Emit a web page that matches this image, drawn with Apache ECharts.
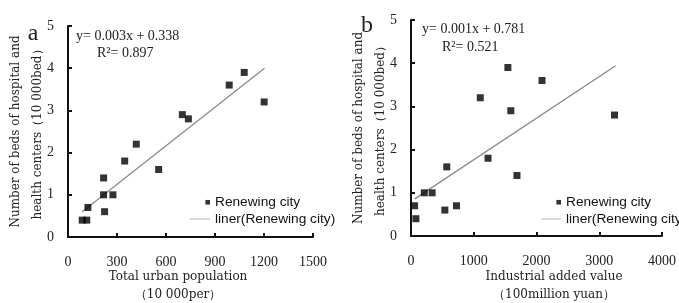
<!DOCTYPE html>
<html><head><meta charset="utf-8">
<script src="https://cdn.jsdelivr.net/npm/echarts@6/dist/echarts.min.js"></script>
<style>html,body{margin:0;padding:0;background:#fff}#c{width:679px;height:303px}</style>
</head><body><div id="c"></div>
<script>
// Panel a: Total urban population (10 000 per) vs beds (10 000 bed)
const popX = [87, 115, 122, 218, 218, 224, 275, 347, 418, 555, 700, 737, 987, 1079, 1201];
const popY = [0.4, 0.4, 0.7, 1.4, 1.0, 0.6, 1.0, 1.8, 2.2, 1.6, 2.9, 2.8, 3.6, 3.9, 3.2];
const popFitX = [87, 1203];
const popFitY = [0.6, 4.0];
// Panel b: Industrial added value (100 million yuan) vs beds
const indX = [57, 78, 212, 337, 539, 570, 725, 1104, 1228, 1544, 1591, 1689, 2088, 3243];
const indY = [0.7, 0.4, 1.0, 1.0, 0.6, 1.6, 0.7, 3.2, 1.8, 3.9, 2.9, 1.4, 3.6, 2.8];
const indFitX = [60, 3260];
const indFitY = [0.86, 3.94];
const yTicks = [0, 1, 2, 3, 4, 5];
const popTicks = [0, 300, 600, 900, 1200, 1500];
const indTicks = [0, 1000, 2000, 3000, 4000];

const serif = 'Liberation Serif';
const wideSerif = 'DejaVu Serif';
const sans = 'Liberation Sans';
const zip = (a, b) => a.map((v, i) => [v, b[i]]);

function xAxis(idx, ticks) {
  return {
    type: 'value', gridIndex: idx, min: ticks[0], max: ticks[ticks.length - 1],
    interval: ticks[1] - ticks[0], splitLine: { show: false },
    axisLine: { lineStyle: { color: '#111', width: 2 } },
    axisTick: { inside: true, length: 4, lineStyle: { color: '#111', width: 2 } },
    axisLabel: { margin: 18, color: '#222', fontFamily: serif, fontSize: 14, formatter: v => String(v) }
  };
}
function yAxis(idx) {
  return {
    type: 'value', gridIndex: idx, min: yTicks[0], max: yTicks[yTicks.length - 1], interval: 1,
    splitLine: { show: false },
    axisLine: { show: true, lineStyle: { color: '#111', width: 2 } },
    axisTick: { show: true, inside: true, length: 4, lineStyle: { color: '#111', width: 2 } },
    axisLabel: { margin: 14, color: '#222', fontFamily: serif, fontSize: 14, formatter: v => String(v) },
    name: 'Number of beds of hospital and\nhealth centers\uFF0810 000bed\uFF09',
    nameLocation: 'middle', nameRotate: 90, nameGap: 19, nameMoveOverlap: false,
    nameTextStyle: { color: '#222', fontFamily: wideSerif, fontSize: 12, lineHeight: 22 }
  };
}
const sq = 'path://M0,0M15,0.5H19.5V5H15Z';
const ln = 'path://M0,0H40V1.6H0Z';
function legend(left, top) {
  return {
    orient: 'vertical', left: left, top: top, itemWidth: 20, itemHeight: 6, itemGap: 3,
    padding: 0, selectedMode: false,
    textStyle: { color: '#111', fontFamily: sans, fontSize: 13.7 },
    data: [
      { name: 'Renewing city', icon: sq, itemStyle: { color: '#000' } },
      { name: 'liner(Renewing city)', icon: ln, itemStyle: { color: '#a0a0a0' } }
    ]
  };
}
function txt(x, y, s, size, align, fam) {
  return { type: 'text', x: x, y: y, style: { text: s, fill: '#222', font: size + 'px "' + (fam || serif) + '"', textAlign: align || 'left', textVerticalAlign: 'middle' } };
}

const chart = echarts.init(document.getElementById('c'));
chart.setOption({
  animation: false,
  grid: [
    { left: 68, top: 26, width: 245, height: 211 },
    { left: 411, top: 20, width: 257, height: 216 }
  ],
  xAxis: [xAxis(0, popTicks), xAxis(1, indTicks)],
  yAxis: [yAxis(0), yAxis(1)],
  legend: [legend(190, 195), legend(541, 195)],
  series: [
    { name: 'Renewing city', type: 'scatter', xAxisIndex: 0, yAxisIndex: 0, symbol: 'rect', symbolSize: 7, itemStyle: { color: '#000' }, data: zip(popX, popY) },
    { name: 'liner(Renewing city)', type: 'line', xAxisIndex: 0, yAxisIndex: 0, symbol: 'none', lineStyle: { color: '#8a8a8a', width: 1.3 }, itemStyle: { color: '#8a8a8a' }, data: zip(popFitX, popFitY), z: 1 },
    { name: 'Renewing city', type: 'scatter', xAxisIndex: 1, yAxisIndex: 1, symbol: 'rect', symbolSize: 7, itemStyle: { color: '#000' }, data: zip(indX, indY) },
    { name: 'liner(Renewing city)', type: 'line', xAxisIndex: 1, yAxisIndex: 1, symbol: 'none', lineStyle: { color: '#8a8a8a', width: 1.3 }, itemStyle: { color: '#8a8a8a' }, data: zip(indFitX, indFitY), z: 1 }
  ],
  graphic: [
    txt(33, 34, 'a', 24, 'center'),
    txt(367, 26, 'b', 24, 'center'),
    txt(76, 36, 'y= 0.003x + 0.338', 14),
    txt(97, 53, 'R\u00B2= 0.897', 14),
    txt(422, 29, 'y= 0.001x + 0.781', 14),
    txt(442, 47, 'R\u00B2= 0.521', 14),
    txt(178, 277, 'Total urban population', 12, 'center', wideSerif),
    txt(178, 295, '\uFF0810 000per\uFF09', 12, 'center', wideSerif),
    txt(554, 277, 'Industrial added value', 12, 'center', wideSerif),
    txt(554, 295, '\uFF08100million yuan\uFF09', 12, 'center', wideSerif)
  ]
});
</script></body></html>
